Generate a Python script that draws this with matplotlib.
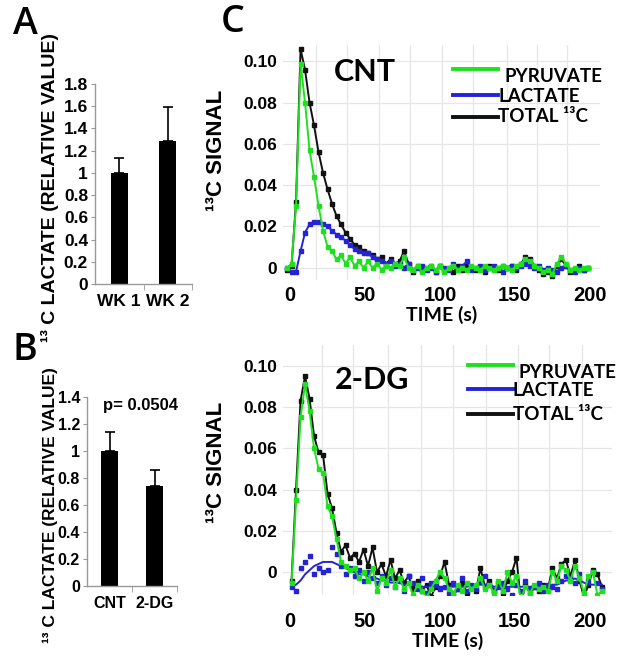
import matplotlib

matplotlib.use("Agg")
import matplotlib.pyplot as plt
import numpy as np
from matplotlib.lines import Line2D

W, H = 624, 660
ARIAL = "Liberation Sans"
CALIBRI = "Lato"

GREEN = "#1fe01f"
BLUE = "#2424d6"
BLACK = "#111111"

# panel A
A_GROUPS = ["WK 1", "WK 2"]
A_MEANS = [1.0, 1.29]
A_ERR = [0.13, 0.30]

# panel B
B_GROUPS = ["CNT", "2-DG"]
B_MEANS = [1.0, 0.74]
B_ERR = [0.14, 0.12]
B_PVALUE = "p= 0.0504"

# panel C, CNT (signal in units of 1e-3)
CNT_TIME = np.arange(-2, 200, 3)
CNT_TOTAL = [
    -1, 1, 32, 106, 96, 80, 69, 56, 46, 38,
    31, 25, 21, 17, 14, 11, 10, 8, 7, 6,
    4, 5, 2, 4, 2, 3, 8, 2, -2, 1,
    -1, 0, 1, -2, 1, -1, 0, -2, 1, -1,
    1, 0, -1, 0, -2, 1, 0, -1, 1, 0,
    1, -1, 2, 5, 4, 1, -1, -3, -2, -4,
    1, 4, 1, -2, -1, 1, -1, 0,
]
CNT_PYR = [
    0, 2, 30, 99, 80, 57, 44, 30, 18, 10,
    8, 4, 6, 2, 5, 1, 3, 0, 3, 0,
    2, -1, 1, 0, 2, 1, 5, 0, -1, 1,
    -2, 0, 1, -1, 1, -2, 0, 1, -1, 0,
    -1, 1, 0, -1, 1, 0, -1, 0, 1, 0,
    -1, 1, 2, 4, 3, 1, 0, -2, -1, -3,
    2, 5, 2, -1, 0, -1, 0, 0,
]
CNT_LAC = [
    0, -2, -2, 8, 17, 21, 22, 22, 21, 20,
    18, 16, 15, 13, 11, 9, 8, 7, 7, 5,
    4, 3, 2, 3, 1, 2, 0, 2, -1, 0,
    1, -1, 0, -2, 1, 0, -1, 2, -1, 1,
    3, -1, 0, 1, -1, 0, 1, 0, -2, 0,
    1, 0, 1, 2, 1, 0, 1, -1, 0, -1,
    -2, 0, 1, -1, -2, 0, -1, 0,
]

# panel C, 2-DG (signal in units of 1e-3)
DG_TIME = np.arange(1, 209, 3)
DG_TOTAL = [
    -4, 40, 83, 95, 84, 66, 58, 57, 38, 31,
    19, 10, 13, 7, 9, 5, 11, 3, 12, 0,
    4, -2, 6, -3, 1, -5, -2, -8, -4, -9,
    -6, -12, -7, -2, 5, -6, -11, -8, -5, -10,
    -7, -9, 2, -7, -4, -9, -5, -10, -4, 0,
    7, -15, -6, -10, -7, -9, -6, -8, 2, -3,
    4, 6, -2, 6, -4, -12, -6, 1, -1, -7,
]
DG_PYR = [
    -5, 35, 75, 91, 78, 60, 50, 48, 32, 27,
    16, 5, 3, 1, 2, -3, 0, -4, 2, -9,
    -3, -5, 1, -7, -3, -8, -5, -11, -6, -9,
    -12, -8, -4, 0, -3, -8, -10, -6, -9, -5,
    -8, -6, -3, -8, -6, -10, -4, -9, 0, -5,
    -2, -13, -7, -10, -6, -8, -7, -9, 0, -4,
    3, 1, -4, 3, -3, -10, -2, 0, -11, -9,
]
DG_LAC_FIT = [
    -7, -6, -4, -1, 1, 3, 4, 5, 5, 5,
    4, 3, 2, 1, 0, -1, -1, -2, -3, -3,
    -4, -4, -5, -5, -5, -6, -6, -6, -6, -7,
    -7, -7, -7, -7, -7, -7, -7, -7, -7, -7,
    -6, -6, -6, -6, -6, -7, -7, -7, -7, -7,
    -7, -7, -7, -7, -7, -7, -7, -7, -6, -6,
    -5, -4, -4, -3, -4, -5, -6, -6, -6, -6,
]
DG_LAC_PTS = [
    -7, -9, 2, 5, 8, -1, 2, 0, 1, 12,
    9, 3, -1, 2, -2, 1, -4, 0, -3, -5,
    -2, -6, -3, -7, -4, -9, -2, -5, -8, -3,
    -10, -5, -6, -8, -7, -10, -5, -8, -3, -9,
    -6, -8, -4, -2, -6, -9, -7, -5, -8, -11,
    -6, -9, -4, -8, -7, -5, -9, -6, -7, -8,
    -4, -2, -3, -5, -1, -12, -4, 0, -5, -8,
]

C_YTICKS = [0, 0.02, 0.04, 0.06, 0.08, 0.10]
C_YTICKLABELS = ["0", "0.02", "0.04", "0.06", "0.08", "0.10"]
C_XTICKS = [0, 50, 100, 150, 200]


def rect(left, top, right, bottom):
    return [left / W, 1 - bottom / H, (right - left) / W, (bottom - top) / H]


def fx(x):
    return x / W


def fy(y):
    return 1 - y / H


def bar_panel(ax, groups, means, errs, ymax, step, fs):
    x = np.arange(len(groups))
    ax.bar(x, means, width=0.36, color="black", zorder=2)
    ax.errorbar(
        x,
        means,
        yerr=[np.zeros(len(errs)), errs],
        fmt="none",
        ecolor="black",
        elinewidth=1.2,
        capsize=3.5,
        capthick=1.2,
        zorder=1,
    )
    ax.set_xlim(-0.5, len(groups) - 0.5)
    ax.set_ylim(0, ymax)
    ticks = np.arange(0, ymax + 1e-9, step)
    ax.set_yticks(ticks)
    ax.set_yticklabels(
        [f"{v:g}" for v in ticks], fontsize=fs, fontweight="bold", family=ARIAL
    )
    ax.set_xticks(x)
    ax.set_xticklabels(groups, fontsize=fs, fontweight="bold", family=ARIAL)
    ax.set_xticks([0.5, 1.5], minor=True)
    ax.tick_params(axis="x", which="major", length=0, pad=7)
    ax.tick_params(axis="x", which="minor", length=4, color="#999999")
    ax.tick_params(axis="y", length=3, color="#999999", pad=2)
    for side in ("top", "right"):
        ax.spines[side].set_visible(False)
    for side in ("left", "bottom"):
        ax.spines[side].set_color("#999999")
        ax.spines[side].set_linewidth(1.0)


def curve_panel(ax, t, total, pyr, lac, lac_pts, xmax, ylim, xpad, grid_x):
    t = np.asarray(t)
    scale = 1e-3
    ax.plot(t, np.array(total) * scale, color=BLACK, lw=1.4, marker="s", ms=2.6)
    if lac_pts is None:
        ax.plot(t, np.array(lac) * scale, color=BLUE, lw=1.4, marker="s", ms=2.6)
    else:
        ax.plot(t, np.array(lac) * scale, color=BLUE, lw=1.4)
        ax.plot(t, np.array(lac_pts) * scale, ls="none", color=BLUE, marker="s", ms=2.6)
    ax.plot(t, np.array(pyr) * scale, color=GREEN, lw=1.4, marker="s", ms=2.6)
    ax.set_xlim(-4.7, xmax)
    ax.set_ylim(*ylim)
    ax.set_yticks(C_YTICKS)
    ax.set_yticklabels(C_YTICKLABELS, fontsize=12.5, fontweight="bold", family=ARIAL)
    ax.set_xticks(C_XTICKS)
    ax.set_xticklabels(
        [str(v) for v in C_XTICKS], fontsize=14.5, fontweight="bold", family=ARIAL
    )
    ax.set_xticks(grid_x, minor=True)
    ax.tick_params(axis="both", which="both", length=0)
    ax.tick_params(axis="y", pad=4)
    ax.tick_params(axis="x", pad=xpad)
    ax.grid(True, which="minor", axis="x", color="#e6e6e6", lw=0.9)
    ax.grid(True, which="major", axis="y", color="#e6e6e6", lw=0.9)
    ax.set_axisbelow(True)
    for s in ax.spines.values():
        s.set_visible(False)


def legend(fig, x0, x1, ys, text_x, text_ys):
    labels = ["PYRUVATE", "LACTATE", "TOTAL ¹³C"]
    for color, y, tx, ty, lab in zip([GREEN, BLUE, BLACK], ys, text_x, text_ys, labels):
        fig.add_artist(
            Line2D([fx(x0), fx(x1)], [fy(y), fy(y)], transform=fig.transFigure,
                   color=color, lw=2.8)
        )
        fig.text(fx(tx), fy(ty), lab, fontsize=13.5, family=CALIBRI,
                 fontweight="bold", ha="left", va="center")


fig = plt.figure(figsize=(W / 100, H / 100), dpi=100)

# A
ax_a = fig.add_axes(rect(95, 84, 192, 284))
bar_panel(ax_a, A_GROUPS, A_MEANS, A_ERR, 1.8, 0.2, 12.5)
fig.text(fx(50), fy(187), "¹³ C LACTATE (RELATIVE VALUE)", rotation=90,
         fontsize=14, fontweight="bold", family=ARIAL, ha="center", va="center")
fig.text(fx(25), fy(24), "A", fontsize=27, family="Open Sans",
         fontweight="semibold", ha="center", va="center")

# B
ax_b = fig.add_axes(rect(87, 397, 177, 586))
bar_panel(ax_b, B_GROUPS, B_MEANS, B_ERR, 1.4, 0.2, 11.5)
ax_b.text(0.68, 1.34, B_PVALUE, ha="center", va="center", fontsize=12,
          fontweight="bold", family=ARIAL)
fig.text(fx(50), fy(505), "¹³ C LACTATE (RELATIVE VALUE)", rotation=90,
         fontsize=12.5, fontweight="bold", family=ARIAL, ha="center", va="center")
fig.text(fx(25), fy(350), "B", fontsize=27, family="Open Sans",
         fontweight="semibold", ha="center", va="center")

# C top
ax_c1 = fig.add_axes(rect(283, 45, 600, 280))
curve_panel(ax_c1, CNT_TIME, CNT_TOTAL, CNT_PYR, CNT_LAC, None, 206.7,
            (-0.006, 0.108), 4, [17, 38, 59, 80, 101, 122, 145, 165, 185])
ax_c1.set_xlabel("TIME (s)", fontsize=14, family=CALIBRI, fontweight="bold",
                 labelpad=1)
fig.text(fx(365), fy(72), "CNT", fontsize=22, fontweight="bold", family=CALIBRI,
         ha="center", va="center")
legend(fig, 453, 498, [69, 95, 117], [505, 498, 498], [77, 97, 117])
fig.text(fx(216), fy(150), "¹³C SIGNAL", rotation=90, fontsize=16,
         fontweight="bold", family=ARIAL, ha="center", va="center")
fig.text(fx(233), fy(22), "C", fontsize=27, family="Open Sans",
         fontweight="semibold", ha="center", va="center")

# C bottom
ax_c2 = fig.add_axes(rect(283, 345, 612, 595))
curve_panel(ax_c2, DG_TIME, DG_TOTAL, DG_PYR, DG_LAC_FIT, DG_LAC_PTS, 214.7,
            (-0.011, 0.11), 12, [21, 42, 65, 87, 109, 131, 152, 173, 195])
ax_c2.set_xlabel("TIME (s)", fontsize=14, family=CALIBRI, fontweight="bold",
                 labelpad=1)
fig.text(fx(372), fy(380), "2-DG", fontsize=22, fontweight="bold", family=CALIBRI,
         ha="center", va="center")
legend(fig, 468, 513, [365, 389, 414], [518, 513, 513], [372, 391, 414])
fig.text(fx(216), fy(462), "¹³C SIGNAL", rotation=90, fontsize=16,
         fontweight="bold", family=ARIAL, ha="center", va="center")

fig.savefig("out.png", dpi=100)
